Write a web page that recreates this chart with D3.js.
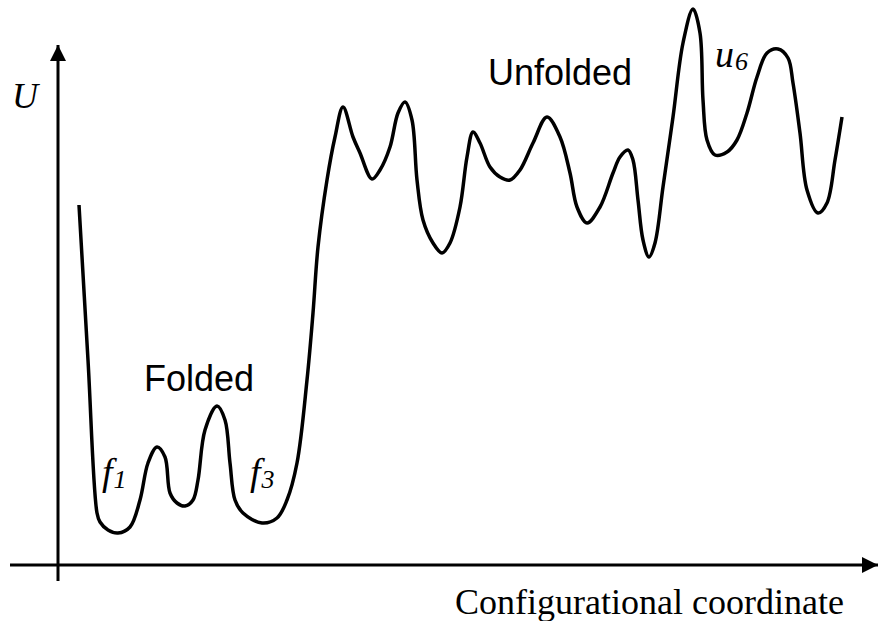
<!DOCTYPE html>
<html>
<head>
<meta charset="utf-8">
<script src="https://cdn.jsdelivr.net/npm/d3@7"></script>
<style>
    body { margin: 0; background: #fff; }
    svg { display: block; }
</style>
</head>
<body>
<svg id="chart" width="885" height="621"></svg>
<script>
// energy landscape (arbitrary units)
var coord = [21, 30, 39, 42, 50, 60, 72, 82, 90, 99, 107, 112, 119, 127, 135, 140, 147, 159, 167, 172,
    177, 185, 204, 219, 229, 239, 249, 255, 260, 269, 277, 285, 295, 302, 314, 322, 332, 340, 347, 354,
    359, 365, 375, 384, 392, 402, 409, 415, 422, 432, 442, 452, 462, 475, 489, 502, 512, 519, 529, 542,
    555, 562, 570, 575, 580, 585, 591, 597, 605, 615, 625, 635, 642, 645, 649, 657, 669, 679, 689, 699,
    709, 720, 730, 735, 742, 749, 760, 769, 777, 784];
var energy = [360, 205, 52, 43, 35, 32, 38, 65, 102, 118, 108, 72, 62, 59, 65, 85, 135, 159, 145, 102,
    65, 52, 42, 47, 65, 102, 185, 252, 318, 385, 428, 458, 428, 412, 386, 395, 418, 452, 463, 445,
    385, 345, 322, 312, 322, 358, 408, 433, 422, 398, 388, 385, 395, 422, 448, 428, 392, 358, 342, 358,
    392, 408, 415, 405, 365, 325, 308, 322, 378, 448, 522, 556, 532, 465, 425, 410, 413, 425, 452, 488,
    512, 516, 507, 482, 432, 375, 352, 362, 405, 448];

// region labels: [text, coord, energy]
var regionLabels = [["Folded", 141, 174], ["Unfolded", 502, 480]];
var stateLabels = [
    { name: "f", sub: "1", x: 44, y: 80 },
    { name: "f", sub: "3", x: 192, y: 80 },
    { name: "u", sub: "6", x: 657, y: 498 }
];

var svg = d3.select("#chart");

var x = d3.scaleLinear().domain([0, 820]).range([58, 878]);
var y = d3.scaleLinear().domain([0, 565]).range([565, 0]);

var data = coord.map(function (c, i) { return [c, energy[i]]; });

// axes with arrow heads
var defs = svg.append("defs");
defs.append("marker")
    .attr("id", "arrow")
    .attr("viewBox", "0 0 16 16")
    .attr("refX", 16).attr("refY", 8)
    .attr("markerWidth", 16).attr("markerHeight", 16)
    .attr("markerUnits", "userSpaceOnUse")
    .attr("orient", "auto")
    .append("path")
    .attr("d", "M0,0 L16,8 L0,16 Z")
    .attr("fill", "#000");

svg.append("line")
    .attr("x1", 10).attr("y1", y(0))
    .attr("x2", x(820)).attr("y2", y(0))
    .attr("stroke", "#000").attr("stroke-width", 3)
    .attr("marker-end", "url(#arrow)");

svg.append("line")
    .attr("x1", x(0)).attr("y1", 581)
    .attr("x2", x(0)).attr("y2", 45)
    .attr("stroke", "#000").attr("stroke-width", 3)
    .attr("marker-end", "url(#arrow)");

var line = d3.line()
    .x(function (d) { return x(d[0]); })
    .y(function (d) { return y(d[1]); })
    .curve(d3.curveCatmullRom.alpha(0.5));

svg.append("path")
    .datum(data)
    .attr("d", line)
    .attr("fill", "none")
    .attr("stroke", "#000")
    .attr("stroke-width", 3.5)
    .attr("stroke-linejoin", "round")
    .attr("stroke-linecap", "butt");

// text
var serif = "'Liberation Serif', 'Times New Roman', serif";
var sans = "'Liberation Sans', Arial, sans-serif";

svg.append("text")
    .attr("x", 12).attr("y", 108)
    .style("font-family", serif).style("font-style", "italic")
    .style("font-size", "36px")
    .text("U");

svg.append("text")
    .attr("x", 455).attr("y", 614)
    .style("font-family", serif)
    .style("font-size", "36px")
    .text("Configurational coordinate");

svg.selectAll(".region")
    .data(regionLabels)
    .enter()
    .append("text")
    .attr("class", "region")
    .attr("x", function (d) { return x(d[1]); })
    .attr("y", function (d) { return y(d[2]); })
    .attr("text-anchor", "middle")
    .style("font-family", sans)
    .style("font-size", "36px")
    .text(function (d) { return d[0]; });

var st = svg.selectAll(".state")
    .data(stateLabels)
    .enter()
    .append("text")
    .attr("class", "state")
    .attr("x", function (d) { return x(d.x); })
    .attr("y", function (d) { return y(d.y); })
    .style("font-family", serif).style("font-style", "italic")
    .style("font-size", "38px");
st.append("tspan").text(function (d) { return d.name; });
st.append("tspan")
    .attr("dx", 1).attr("dy", 3)
    .style("font-size", "26px")
    .text(function (d) { return d.sub; });
</script>
</body>
</html>
